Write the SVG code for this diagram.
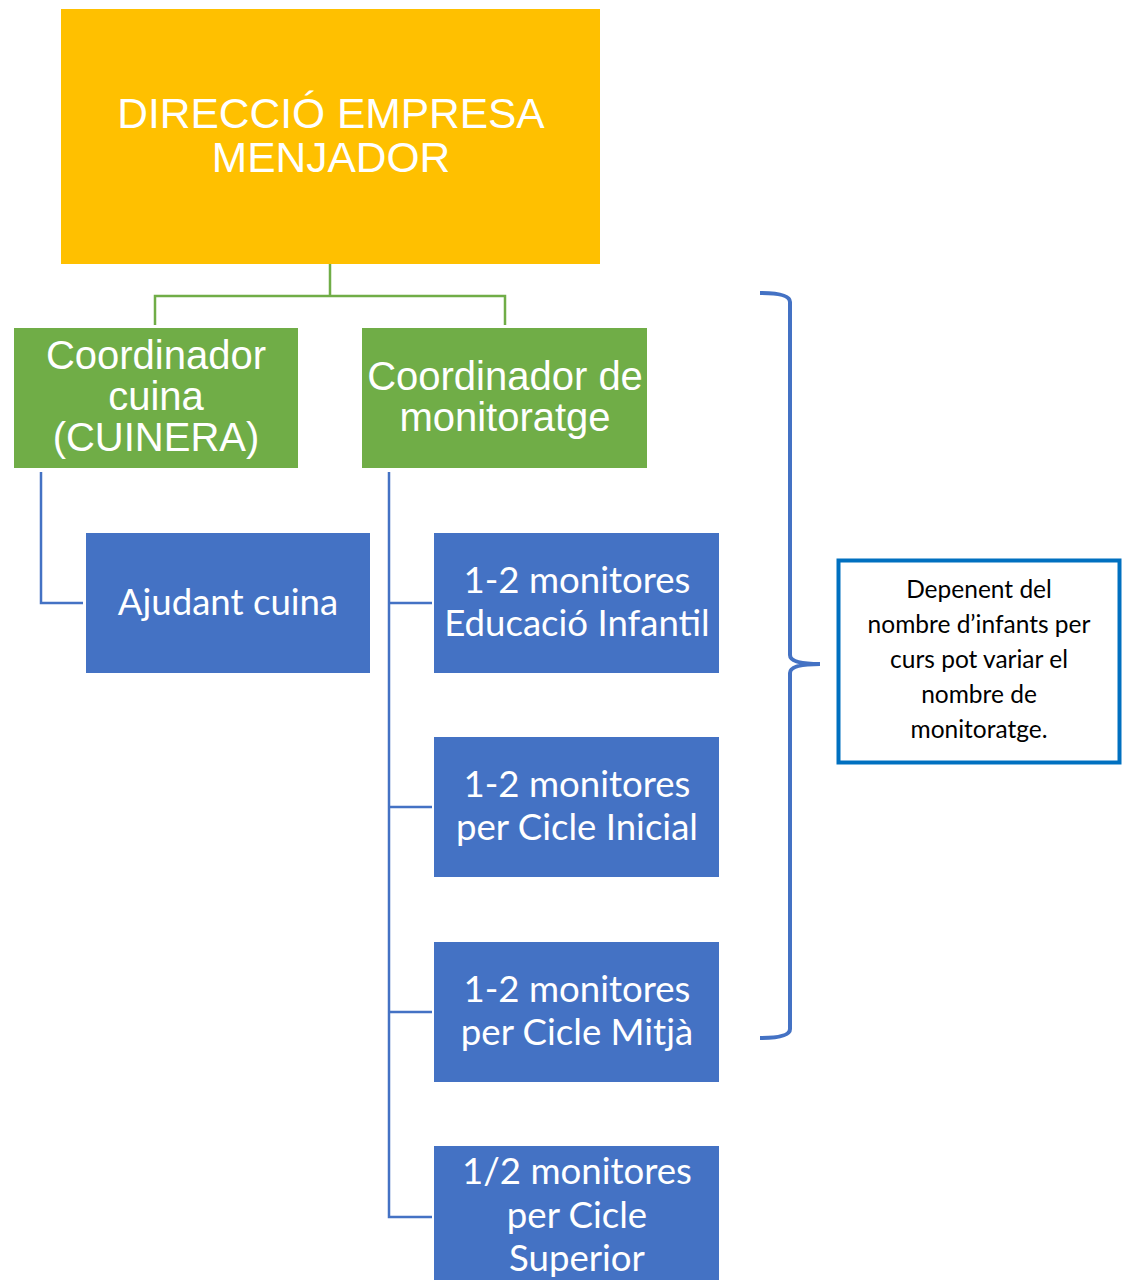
<svg xmlns="http://www.w3.org/2000/svg" width="1123" height="1280" viewBox="0 0 1123 1280">
<style>
.t1{font-family:"Liberation Sans",Arial,sans-serif;fill:#fff;text-anchor:middle}
.t2{font-family:Lato,"Noto Sans",sans-serif;fill:#fff;text-anchor:middle;font-size:36.6px}
.t3{font-family:Lato,"Noto Sans",sans-serif;fill:#000;text-anchor:middle;font-size:24.5px}
.green{fill:#70AD47}
.blue{fill:#4472C4}
.cg{fill:none;stroke:#70AD47;stroke-width:2.5}
.cb{fill:none;stroke:#4472C4;stroke-width:2.5}
</style>
<rect width="1123" height="1280" fill="#fff"/>
<g id="connectors">
<path class="cg" d="M330,264 V296 M155,325 V296 H505 V325"/>
<path class="cb" d="M41,472 V603 H83"/>
<path class="cb" d="M389,472 V1217 H432 M389,603 H432 M389,807 H432 M389,1012 H432"/>
</g>
<g id="direccio">
<rect x="61" y="9" width="539" height="255" fill="#FFC000"/>
<text class="t1" font-size="42.5" x="331" y="128">DIRECCIÓ EMPRESA</text>
<text class="t1" font-size="42.5" x="331" y="172">MENJADOR</text>
</g>
<g id="coord-cuina">
<rect class="green" x="14" y="328" width="284" height="140"/>
<text class="t1" font-size="40" x="156" y="369">Coordinador</text>
<text class="t1" font-size="40" x="156" y="410">cuina</text>
<text class="t1" font-size="40" x="156" y="451">(CUINERA)</text>
</g>
<g id="coord-monitoratge">
<rect class="green" x="362" y="328" width="285" height="140"/>
<text class="t1" font-size="40" x="505" y="390">Coordinador de</text>
<text class="t1" font-size="40" x="505" y="431">monitoratge</text>
</g>
<g id="ajudant">
<rect class="blue" x="86" y="533" width="284" height="140"/>
<text class="t2" x="228" y="615">Ajudant cuina</text>
</g>
<g id="infantil">
<rect class="blue" x="434" y="533" width="285" height="140"/>
<text class="t2" x="577" y="593">1-2 monitores</text>
<text class="t2" x="577" y="636">Educació Infantil</text>
</g>
<g id="inicial">
<rect class="blue" x="434" y="737" width="285" height="140"/>
<text class="t2" x="577" y="797">1-2 monitores</text>
<text class="t2" x="577" y="840">per Cicle Inicial</text>
</g>
<g id="mitja">
<rect class="blue" x="434" y="942" width="285" height="140"/>
<text class="t2" x="577" y="1002">1-2 monitores</text>
<text class="t2" x="577" y="1045">per Cicle Mitjà</text>
</g>
<g id="superior">
<rect class="blue" x="434" y="1146" width="285" height="140"/>
<text class="t2" x="577" y="1184">1/2 monitores</text>
<text class="t2" x="577" y="1228">per Cicle</text>
<text class="t2" x="577" y="1271">Superior</text>
</g>
<g id="brace">
<path d="M760,293 Q790,293 790,302 V655 Q790,664 820,664 Q790,664 790,673 V1029 Q790,1038 760,1038" fill="none" stroke="#4472C4" stroke-width="4"/>
</g>
<g id="nota">
<rect x="838.500" y="560.500" width="281" height="202" fill="#fff" stroke="#0070C0" stroke-width="4"/>
<text class="t3" x="979" y="598">Depenent del</text>
<text class="t3" x="979" y="633">nombre d’infants per</text>
<text class="t3" x="979" y="668">curs pot variar el</text>
<text class="t3" x="979" y="703">nombre de</text>
<text class="t3" x="979" y="738">monitoratge.</text>
</g>
</svg>
